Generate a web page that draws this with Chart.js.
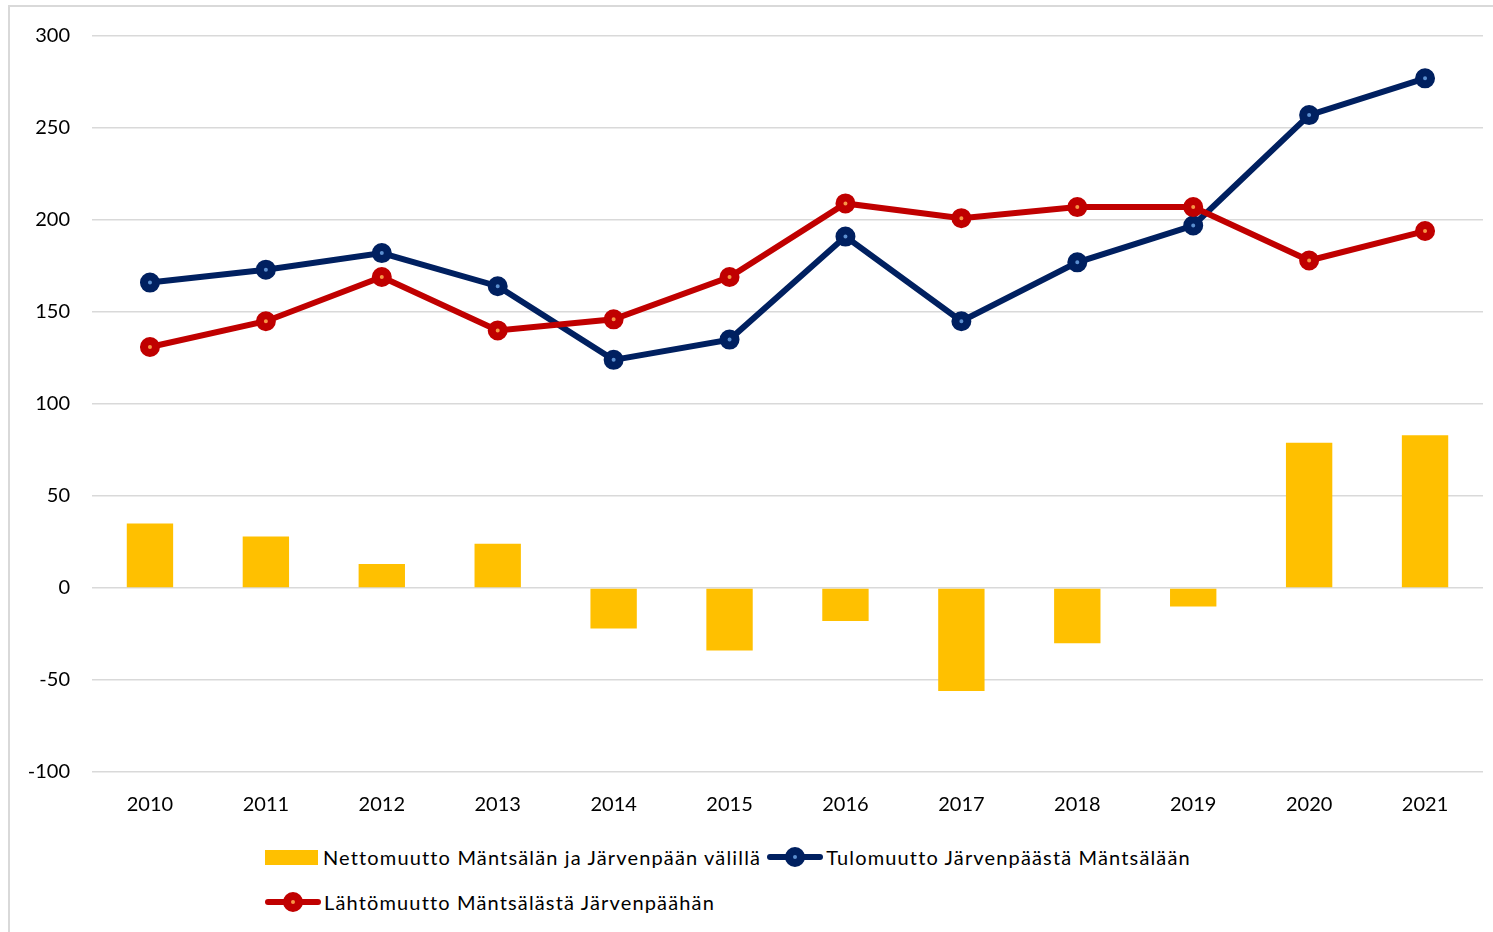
<!DOCTYPE html>
<html>
<head>
<meta charset="utf-8">
<script src="https://cdn.jsdelivr.net/npm/chart.js@4.4.1/dist/chart.umd.min.js"></script>
<style>
    html, body { margin: 0; background: #fff; font-family: Lato, sans-serif; overflow: hidden; width: 1493px; height: 932px; }
    #frame { position: absolute; left: 8px; top: 5px; width: 1500px; height: 940px; border: 2px solid #d9d9d9; box-sizing: border-box; }
    #metricChart { position: absolute; left: 0; top: 0; }
    .row { position: absolute; left: 265px; display: flex; align-items: center; font-size: 20px; letter-spacing: 1.15px; color: #000; height: 24px; white-space: nowrap; }
    .item { display: flex; align-items: center; margin-right: 6px; }
    .box { width: 53px; height: 15px; margin-right: 5px; }
    .sym { position: relative; width: 56px; height: 20px; margin-right: 3px; }
    .sym .ln { position: absolute; left: 0; right: 0; top: 7px; height: 6px; border-radius: 3px; }
    .sym .dot { position: absolute; left: 18px; top: 0; width: 4px; height: 4px; border-radius: 50%; border: 8px solid; }
</style>
</head>
<body>
<div id="frame"></div>
<canvas id="metricChart" width="1497" height="830"></canvas>
<div class="row" id="row1" style="top:845px"></div>
<div class="row" id="row2" style="top:890px"></div>
<script>
const years = ['2010', '2011', '2012', '2013', '2014', '2015', '2016', '2017', '2018', '2019', '2020', '2021'];
const tulomuutto = [166, 173, 182, 164, 124, 135, 191, 145, 177, 197, 257, 277];
const lahtomuutto = [131, 145, 169, 140, 146, 169, 209, 201, 207, 207, 178, 194];
const nettomuutto = [35, 28, 13, 24, -22, -34, -18, -56, -30, -10, 79, 83];

const netLabel = 'Nettomuutto Mäntsälän ja Järvenpään välillä';
const tuloLabel = 'Tulomuutto Järvenpäästä Mäntsälään';
const lahtoLabel = 'Lähtömuutto Mäntsälästä Järvenpäähän';

const tickFont = { family: 'Lato', size: 20 };

function renderChart()
{
    const ctx = document.getElementById('metricChart').getContext('2d');
    new Chart(ctx, {
        data: {
            labels: years,
            datasets: [
                {
                    type: 'bar',
                    label: netLabel,
                    data: nettomuutto,
                    backgroundColor: '#ffc000',
                    barPercentage: 0.8,
                    categoryPercentage: 0.5,
                    order: 2
                },
                {
                    type: 'line',
                    label: tuloLabel,
                    data: tulomuutto,
                    borderColor: '#002060',
                    borderWidth: 6,
                    pointRadius: 6,
                    pointBorderWidth: 8,
                    pointBorderColor: '#002060',
                    pointBackgroundColor: '#5b8fd0',
                    tension: 0,
                    order: 1
                },
                {
                    type: 'line',
                    label: lahtoLabel,
                    data: lahtomuutto,
                    borderColor: '#c00000',
                    borderWidth: 6,
                    pointRadius: 6,
                    pointBorderWidth: 8,
                    pointBorderColor: '#c00000',
                    pointBackgroundColor: '#f79646',
                    tension: 0,
                    order: 0
                }
            ]
        },
        options: {
            responsive: false,
            animation: false,
            devicePixelRatio: 1,
            layout: { padding: { top: 36, right: 6, left: 0, bottom: 0 } },
            plugins: {
                legend: { display: false },
                tooltip: { enabled: false }
            },
            scales: {
                x: {
                    grid: { display: false, drawTicks: false },
                    border: { display: false },
                    ticks: { font: tickFont, color: '#000', padding: 21 },
                    afterFit: (scale) => { scale.height = 58; }
                },
                y: {
                    min: -100,
                    max: 300,
                    ticks: { stepSize: 50, font: tickFont, color: '#000', padding: 22 },
                    grid: { color: '#d9d9d9', lineWidth: 1.5, drawTicks: false },
                    border: { display: false },
                    afterFit: (scale) => { scale.width = 92; }
                }
            }
        }
    });

    //Legend
    const row1 = document.getElementById('row1');
    const row2 = document.getElementById('row2');
    row1.innerHTML =
        '<span class="item"><span class="box" style="background:#ffc000"></span>' + netLabel + '</span>' +
        '<span class="item"><span class="sym"><span class="ln" style="background:#002060"></span>' +
        '<span class="dot" style="border-color:#002060;background:#5b8fd0"></span></span>' + tuloLabel + '</span>';
    row2.innerHTML =
        '<span class="item"><span class="sym"><span class="ln" style="background:#c00000"></span>' +
        '<span class="dot" style="border-color:#c00000;background:#f79646"></span></span>' + lahtoLabel + '</span>';
}

renderChart();
</script>
</body>
</html>
